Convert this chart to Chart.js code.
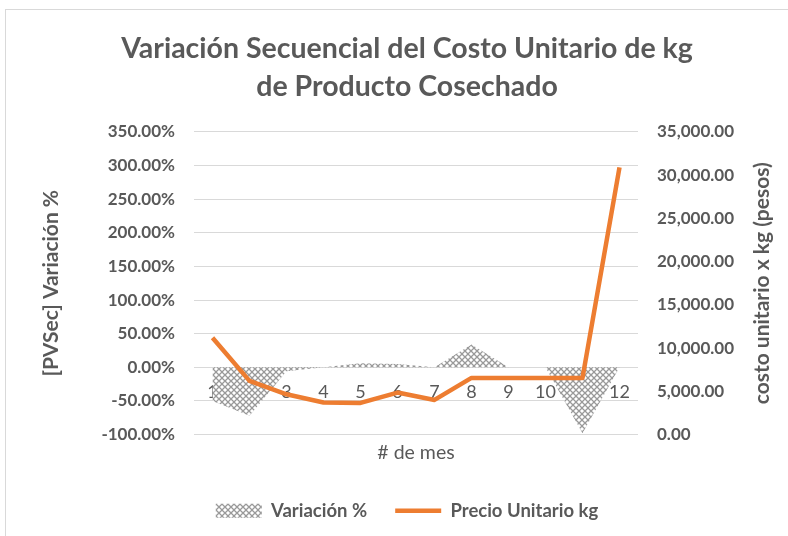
<!DOCTYPE html>
<html>
<head>
<meta charset="utf-8">
<script src="https://cdn.jsdelivr.net/npm/chart.js@4.4.1/dist/chart.umd.min.js"></script>
<style>
  html, body { margin: 0; padding: 0; background: #fff; }
  #wrap { width: 788px; height: 536px; position: relative; }
</style>
</head>
<body>
<div id="wrap"><canvas id="chart" width="788" height="536"></canvas></div>
<script>
// Data
const meses = ['1', '2', '3', '4', '5', '6', '7', '8', '9', '10', '11', '12'];
const variacion = [-50, -72, -6, 0, 6, 5, 0, 34, 0, 0, -98, 0];           // Variación %
const precio = [11200, 6200, 4650, 3700, 3650, 4850, 4000, 6550, 6550, 6550, 6550, 30900]; // Precio Unitario kg

const GREY = '#595959';
const ORANGE = '#ED7D31';
const FONT = 'Lato';

// hatched fill like Excel's diamond grid pattern
function hatchPattern() {
    const c = document.createElement('canvas');
    c.width = 6; c.height = 6;
    const g = c.getContext('2d');
    g.fillStyle = '#ffffff';
    g.fillRect(0, 0, 6, 6);
    g.strokeStyle = '#999999';
    g.lineWidth = 1.3;
    g.beginPath();
    g.moveTo(-1, -1); g.lineTo(7, 7);
    g.moveTo(7, -1); g.lineTo(-1, 7);
    g.stroke();
    return g.createPattern(c, 'repeat');
}
const hatch = hatchPattern();

const pct = v => v.toFixed(2) + '%';
const money = v => v.toLocaleString('en-US', { minimumFractionDigits: 2, maximumFractionDigits: 2 });

// thin outer border of the Excel chart object
const chartBorder = {
    id: 'chartBorder',
    beforeDraw(chart) {
        const ctx = chart.ctx;
        ctx.save();
        ctx.strokeStyle = '#d9d9d9';
        ctx.lineWidth = 1;
        ctx.strokeRect(5.5, 9.5, 900, 700);
        ctx.restore();
    }
};

// right axis title reads bottom-to-top as in Excel
const rightTitle = {
    id: 'rightTitle',
    afterDraw(chart) {
        const s = chart.scales.y1;
        const area = chart.chartArea;
        const ctx = chart.ctx;
        ctx.save();
        ctx.translate(s.right - 13, (area.top + area.bottom) / 2);
        ctx.rotate(-Math.PI / 2);
        ctx.font = 'bold 21px ' + FONT;
        ctx.fillStyle = GREY;
        ctx.textAlign = 'center';
        ctx.textBaseline = 'middle';
        ctx.fillText('costo unitario x kg (pesos)', 0, 0);
        ctx.restore();
    }
};

const ctx = document.getElementById('chart').getContext('2d');
new Chart(ctx, {
    type: 'line',
    data: {
        labels: meses,
        datasets: [{
            label: 'Variación %',
            data: variacion,
            yAxisID: 'y',
            backgroundColor: hatch,
            borderWidth: 0,
            pointRadius: 0,
            pointStyle: 'rect',
            pointBackgroundColor: hatch,
            pointBorderWidth: 0,
            fill: 'origin',
            tension: 0,
            order: 1
        }, {
            label: 'Precio Unitario kg',
            data: precio,
            yAxisID: 'y1',
            borderColor: ORANGE,
            backgroundColor: ORANGE,
            borderWidth: 4.5,
            pointRadius: 0,
            pointStyle: 'line',
            pointBorderColor: ORANGE,
            pointBorderWidth: 4.5,
            borderJoinStyle: 'round',
            fill: false,
            tension: 0,
            order: 0
        }]
    },
    options: {
        responsive: false,
        animation: false,
        layout: { padding: { top: 0, bottom: 6, left: 39, right: 13 } },
        plugins: {
            title: {
                display: true,
                text: ['Variación Secuencial del Costo Unitario de kg', 'de Producto Cosechado'],
                color: GREY,
                font: { family: FONT, size: 28.5, weight: 'bold', lineHeight: 1.333 },
                padding: { top: 30, bottom: 26 }
            },
            legend: {
                position: 'bottom',
                labels: {
                    color: GREY,
                    font: { family: FONT, size: 18.5, weight: 'bold' },
                    usePointStyle: true,
                    pointStyleWidth: 46,
                    boxHeight: 14,
                    padding: 28,
                    sort: (a, b) => a.datasetIndex - b.datasetIndex
                }
            },
            tooltip: { enabled: false }
        },
        scales: {
            x: {
                type: 'category',
                position: { y: 0 },
                offset: true,
                grid: { display: false, drawTicks: false },
                border: { display: false },
                ticks: {
                    color: GREY,
                    font: { family: FONT, size: 18 },
                    padding: 14,
                    maxRotation: 0,
                    autoSkip: false
                }
            },
            x2: {
                type: 'category',
                position: 'bottom',
                offset: true,
                grid: { display: false, drawTicks: false },
                border: { display: false },
                ticks: { display: false },
                title: {
                    display: true,
                    text: '# de mes',
                    color: GREY,
                    font: { family: FONT, size: 19.5 },
                    padding: { top: 0, bottom: 9 }
                },
                afterFit: s => { s.height = 39; }
            },
            y: {
                position: 'left',
                min: -100,
                max: 350,
                grid: { color: '#d9d9d9', drawTicks: false },
                border: { display: false },
                ticks: {
                    stepSize: 50,
                    color: GREY,
                    font: { family: FONT, size: 17, weight: 'bold' },
                    padding: 19,
                    callback: v => pct(v)
                },
                title: {
                    display: true,
                    text: '[PVSec] Variación %',
                    color: GREY,
                    font: { family: FONT, size: 21, weight: 'bold' },
                    padding: { top: 0, bottom: 0 }
                },
                afterFit: s => { s.width = 155; }
            },
            y1: {
                position: 'right',
                min: 0,
                max: 35000,
                grid: { display: false, drawTicks: false },
                border: { display: false },
                ticks: {
                    stepSize: 5000,
                    color: GREY,
                    font: { family: FONT, size: 17, weight: 'bold' },
                    padding: 19,
                    callback: v => money(v)
                },
                afterFit: s => { s.width = 137; }
            }
        }
    },
    plugins: [chartBorder, rightTitle]
});
</script>
</body>
</html>
